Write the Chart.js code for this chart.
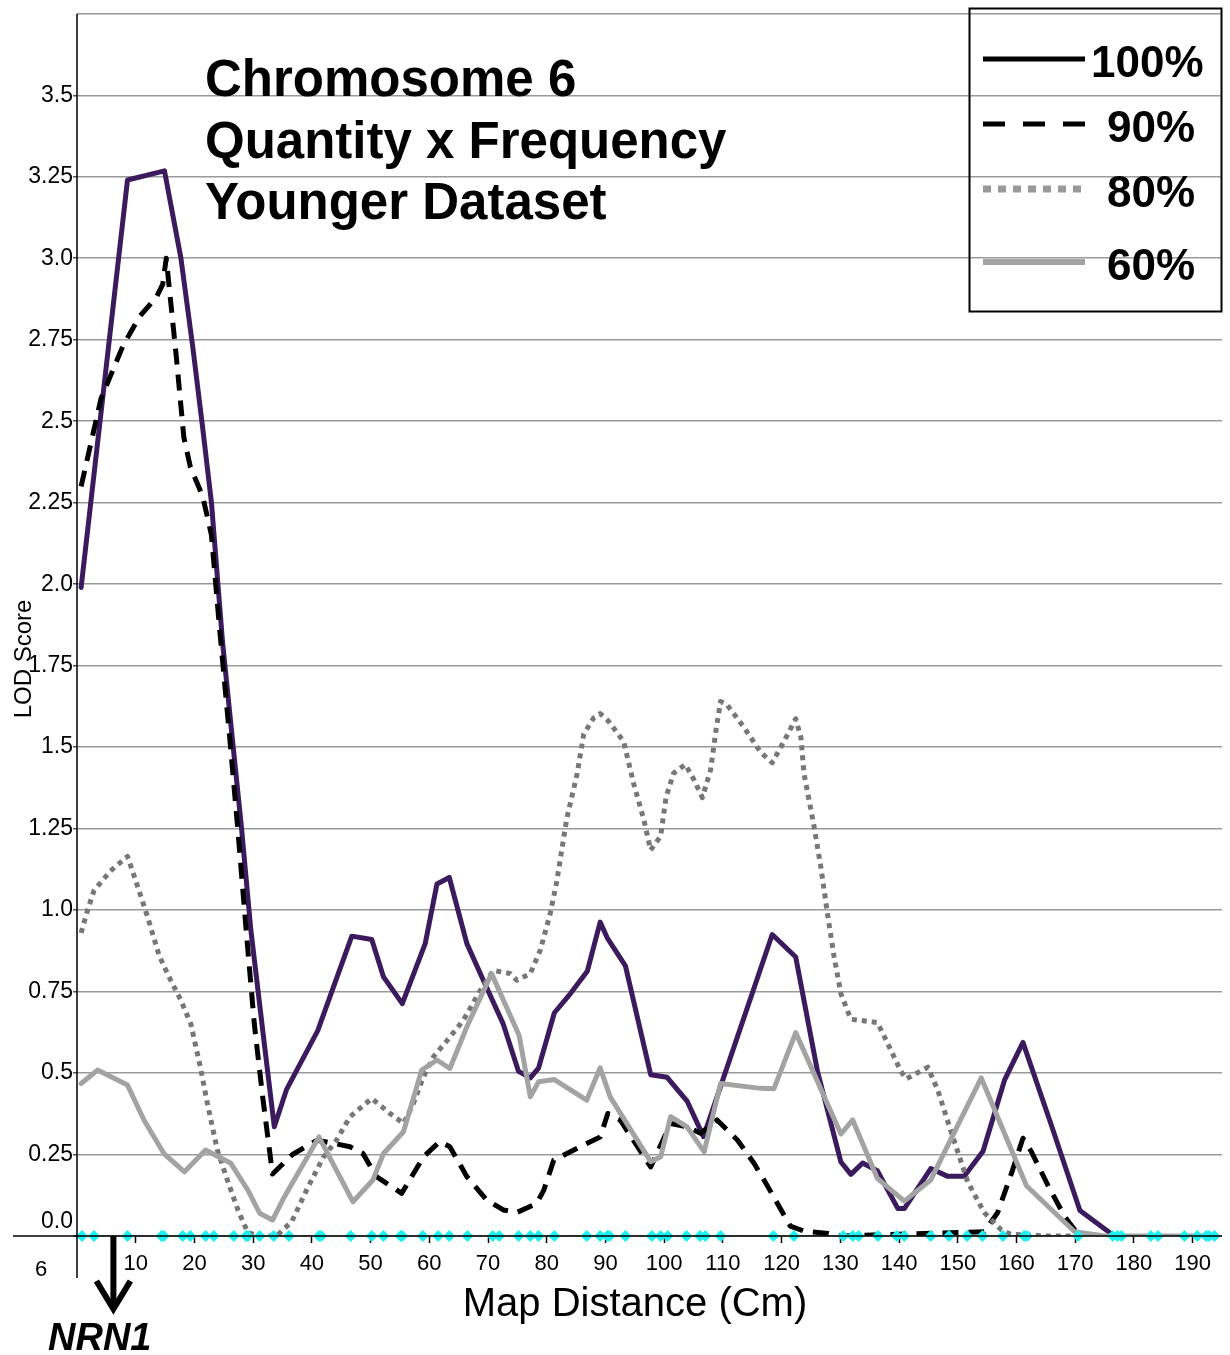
<!DOCTYPE html>
<html>
<head>
<meta charset="utf-8">
<script src="https://cdn.jsdelivr.net/npm/chart.js@4.4.1/dist/chart.umd.min.js"></script>
<style>
  html, body { margin: 0; background: #fff; }
  #wrap { position: relative; width: 1230px; height: 1355px; }
</style>
</head>
<body>
<div id="wrap"><canvas id="chart" width="1230" height="1355"></canvas></div>
<script>
// ---------- data (map distance cM, LOD score) ----------
const titleLines = ['Chromosome 6', 'Quantity x Frequency', 'Younger Dataset'];
const seriesLabels = ['100%', '90%', '80%', '60%'];
const xTickValues = [10, 20, 30, 40, 50, 60, 70, 80, 90, 100, 110, 120, 130, 140, 150, 160, 170, 180, 190];
const yTickValues = [0, 0.25, 0.5, 0.75, 1, 1.25, 1.5, 1.75, 2, 2.25, 2.5, 2.75, 3, 3.25, 3.5, 3.75];
const yTickLabels = ['0.0', '0.25', '0.5', '0.75', '1.0', '1.25', '1.5', '1.75', '2.0', '2.25', '2.5', '2.75', '3.0', '3.25', '3.5', ''];

const lod100 = [
  [0.7, 1.99], [8.6, 3.24], [14.9, 3.268], [17.7, 3.0], [19.7, 2.73], [21.4, 2.48], [22.9, 2.25],
  [24, 2.0], [24.8, 1.82], [26.6, 1.5], [28, 1.255], [29.6, 0.94], [31.9, 0.59], [33.6, 0.335],
  [35.7, 0.45], [41, 0.63], [46.8, 0.92], [50.2, 0.91], [52.2, 0.795], [55.4, 0.713], [59.3, 0.897],
  [61.3, 1.08], [63.4, 1.10], [66.4, 0.897], [69.2, 0.785], [72.6, 0.65], [75.2, 0.505], [77.2, 0.485],
  [78.6, 0.515], [81.3, 0.685], [84, 0.743], [86.9, 0.812], [89.1, 0.963], [90.3, 0.915], [93.4, 0.829],
  [97.7, 0.495], [100.5, 0.487], [103.9, 0.414], [106.7, 0.305], [118.4, 0.925], [122.4, 0.856],
  [126.1, 0.506], [130.1, 0.227], [131.8, 0.189], [133.8, 0.224], [136.3, 0.2], [139.8, 0.084],
  [140.9, 0.084], [145.4, 0.207], [148.3, 0.183], [151.1, 0.183], [154.3, 0.26], [158, 0.48],
  [161.1, 0.594], [165.9, 0.342], [170.8, 0.078], [175.9, 0.01]
];

const lod90 = [
  [0.7, 2.30], [4.1, 2.57], [7.8, 2.73], [10.6, 2.82], [13.5, 2.88], [14.6, 2.92], [15.2, 3.0],
  [16.9, 2.70], [18.2, 2.45], [19.3, 2.36], [21.4, 2.27], [22.9, 2.15], [24.3, 1.86], [26, 1.53],
  [27.4, 1.245], [28.8, 0.94], [30.2, 0.65], [31.6, 0.43], [33.3, 0.19], [36.7, 0.25], [40.9, 0.294],
  [46.5, 0.274], [48.7, 0.253], [51, 0.182], [55.3, 0.131], [59, 0.243], [61.8, 0.29], [63.5, 0.274],
  [66.4, 0.182], [69.8, 0.11], [72.6, 0.08], [74.9, 0.072], [78.3, 0.1], [79.5, 0.141], [81.2, 0.233],
  [85.7, 0.274], [89.1, 0.304], [90.4, 0.376], [92.5, 0.356], [97.7, 0.212], [101.1, 0.345],
  [103.9, 0.335], [106.2, 0.315], [109, 0.356], [112.5, 0.294], [115.3, 0.223], [117, 0.172],
  [119.6, 0.09], [121.5, 0.03], [123.8, 0.015], [128, 0.008], [130, 0], [154.5, 0.013], [156.8, 0.072],
  [159.1, 0.19], [161.1, 0.30], [162.5, 0.26], [165.4, 0.154], [168.2, 0.06], [170.5, 0.005]
];

const lod80 = [
  [0.7, 0.93], [1.8, 1.0], [2.9, 1.06], [5.7, 1.12], [8.6, 1.165], [10, 1.09], [12, 0.98], [14, 0.86],
  [15.4, 0.805], [17.7, 0.723], [19.4, 0.65], [21.1, 0.51], [22.2, 0.407], [23.9, 0.264], [25.6, 0.172],
  [27.4, 0.08], [29.1, 0.01], [31, 0], [34, 0], [36.6, 0.045], [39.2, 0.145], [41.9, 0.24], [44.2, 0.294],
  [46.5, 0.366], [50.2, 0.422], [53.3, 0.376], [55.6, 0.345], [57.3, 0.407], [59, 0.488], [60.7, 0.55],
  [63.5, 0.61], [65.8, 0.662], [68.7, 0.754], [70.9, 0.815], [73.8, 0.805], [74.9, 0.785], [77.2, 0.805],
  [78.9, 0.877], [80.6, 0.99], [81.7, 1.087], [83.4, 1.28], [85.2, 1.42], [86.3, 1.54], [88, 1.59],
  [89.1, 1.603], [90.5, 1.58], [93.1, 1.517], [94.8, 1.388], [96.5, 1.28], [97.7, 1.184], [99.4, 1.227],
  [100.3, 1.345], [101.6, 1.42], [103.6, 1.447], [105.1, 1.399], [106.5, 1.345], [107.9, 1.43],
  [108.8, 1.549], [109.6, 1.64], [110.7, 1.63], [113.6, 1.56], [116.4, 1.485], [118.4, 1.452],
  [121, 1.538], [122.4, 1.587], [123.3, 1.528], [123.8, 1.42], [125.5, 1.259], [126.7, 1.13],
  [127.8, 0.99], [128.9, 0.861], [130.1, 0.743], [131.8, 0.665], [136.3, 0.655], [137.5, 0.612],
  [140.3, 0.506], [141.2, 0.482], [144.9, 0.518], [146.6, 0.447], [148.9, 0.318], [151.7, 0.166],
  [154.5, 0.072], [157.4, 0.019], [159, 0.005], [165, 0], [172, 0]
];

const lod60 = [
  [0.7, 0.468], [3.5, 0.509], [8.6, 0.463], [11.4, 0.356], [14.8, 0.253], [18.3, 0.197], [21.9, 0.264],
  [26.2, 0.223], [29.1, 0.141], [31.1, 0.07], [33.3, 0.049], [35.3, 0.12], [41.2, 0.304], [47, 0.105],
  [50.4, 0.172], [52.2, 0.253], [55.6, 0.32], [58.7, 0.509], [61.3, 0.54], [63.5, 0.514], [66.4, 0.642],
  [70.6, 0.805], [75.3, 0.615], [77.2, 0.427], [78.6, 0.473], [81.3, 0.48], [86.8, 0.417], [89.1, 0.516],
  [90.8, 0.427], [97.7, 0.228], [99.4, 0.243], [101.1, 0.366], [103.9, 0.335], [106.8, 0.258],
  [109.6, 0.468], [116.4, 0.453], [118.7, 0.452], [122.4, 0.624], [130.1, 0.313], [132.1, 0.356],
  [136.3, 0.177], [140.9, 0.107], [145.4, 0.172], [154, 0.485], [161.7, 0.154], [169.9, 0.013],
  [175, 0], [194, 0]
];

// marker positions along the map (cM)
const markers = [
  0.85, 2.9, 8.6, 14.4, 14.8, 18.0, 19.3, 21.9, 23.3, 26.7, 28.8, 29.1, 31.1, 33.5, 36.1, 41.2, 41.6,
  46.6, 50.2, 52.2, 55.1, 55.4, 58.9, 61.5, 63.4, 66.5, 70.8, 71.9, 75.2, 77.2, 78.6, 81.3, 86.8, 89.1,
  90.3, 90.7, 93.4, 97.9, 99.4, 100.6, 103.8, 106.1, 107.0, 109.6, 118.6, 122.1, 130.5, 132.1, 133.1,
  136.4, 139.6, 140.9, 145.4, 148.5, 151.6, 154.2, 157.7, 161.3, 161.8, 170.5, 176.4, 177.2, 177.9,
  182.9, 184.1, 188.6, 190.8, 192.3, 192.8, 193.7
];
const geneName = 'NRN1';
const genePos = 6.2;

// ---------- helpers ----------
const FONT = "'Liberation Sans', Arial, sans-serif";
const pts = (arr) => arr.map(([x, y]) => ({ x, y }));

const line = (label, data, color, width, dash, order) => ({
  label, data: pts(data), borderColor: color, borderWidth: width, borderDash: dash,
  borderCapStyle: dash.length ? 'butt' : 'round', borderJoinStyle: 'round',
  pointRadius: 0, tension: 0, fill: false, order,
});

// ---------- overlay: axes, title, legend, labels ----------
const overlay = {
  id: 'overlay',
  afterDraw(chart) {
    const { ctx, scales: { x, y } } = chart;
    const y0 = y.getPixelForValue(0);
    ctx.save();

    // axis lines
    ctx.strokeStyle = '#000'; ctx.lineWidth = 1.5;
    ctx.beginPath();
    ctx.moveTo(13, y0); ctx.lineTo(x.right, y0);
    ctx.moveTo(x.left, y.top); ctx.lineTo(x.left, 1278);
    ctx.stroke();

    // title
    ctx.fillStyle = '#000';
    ctx.font = `bold 51px ${FONT}`;
    ctx.textAlign = 'left'; ctx.textBaseline = 'alphabetic';
    titleLines.forEach((t, i) => ctx.fillText(t, 205, 96 + i * 61.5));

    // legend
    ctx.lineWidth = 2; ctx.strokeStyle = '#000';
    ctx.strokeRect(969.5, 8.5, 252, 303);
    const items = [
      { c: '#000', w: 5, d: [], ly: 59, tx: 1091, ty: 77 },
      { c: '#000', w: 5, d: [22, 18], ly: 124, tx: 1107, ty: 142 },
      { c: '#999', w: 7, d: [8, 7], ly: 189, tx: 1107, ty: 207 },
      { c: '#a3a3a3', w: 6, d: [], ly: 262, tx: 1107, ty: 280 },
    ];
    ctx.font = `bold 44px ${FONT}`;
    items.forEach((it, i) => {
      ctx.beginPath();
      ctx.strokeStyle = it.c; ctx.lineWidth = it.w; ctx.setLineDash(it.d); ctx.lineCap = 'butt';
      ctx.moveTo(983, it.ly); ctx.lineTo(1085, it.ly); ctx.stroke();
      ctx.setLineDash([]);
      ctx.fillText(seriesLabels[i], it.tx, it.ty);
    });

    // zero label sits above the axis line
    ctx.font = `23px ${FONT}`;
    ctx.textAlign = 'right'; ctx.textBaseline = 'middle';
    ctx.fillText(yTickLabels[0], 73, y0 - 14);

    // chromosome number under the axis
    ctx.font = `22px ${FONT}`;
    ctx.textAlign = 'center';
    ctx.fillText('6', 41, 1270);

    // axis titles
    ctx.font = `40px ${FONT}`;
    ctx.textBaseline = 'alphabetic';
    ctx.fillText('Map Distance (Cm)', 635, 1316);
    ctx.save();
    ctx.translate(24, 659); ctx.rotate(-Math.PI / 2);
    ctx.font = `24px ${FONT}`; ctx.textBaseline = 'middle';
    ctx.fillText('LOD Score', 0, 0);
    ctx.restore();

    // gene arrow
    const gx = x.getPixelForValue(genePos);
    ctx.strokeStyle = '#000'; ctx.lineWidth = 6; ctx.lineCap = 'butt'; ctx.lineJoin = 'miter';
    ctx.beginPath(); ctx.moveTo(gx, y0); ctx.lineTo(gx, 1306); ctx.stroke();
    ctx.beginPath(); ctx.moveTo(gx - 17, 1281); ctx.lineTo(gx, 1309); ctx.lineTo(gx + 17, 1281); ctx.stroke();
    ctx.font = `italic bold 38px ${FONT}`;
    ctx.textAlign = 'left';
    ctx.fillText(geneName, 48, 1350);

    ctx.restore();
  },
};

new Chart(document.getElementById('chart'), {
  type: 'line',
  data: {
    datasets: [
      {
        label: 'markers', data: markers.map((m) => ({ x: m, y: 0 })), showLine: false,
        pointStyle: 'rectRot', pointRadius: 6, pointBackgroundColor: '#1cf0f0', pointBorderWidth: 0,
        clip: false, order: 0,
      },
      line(seriesLabels[3], lod60, '#a3a3a3', 5, [], 1),
      line(seriesLabels[2], lod80, '#777777', 5, [5, 5], 2),
      line(seriesLabels[1], lod90, '#000000', 5, [16, 10], 3),
      line(seriesLabels[0], lod100, '#3b1a5e', 5, [], 4),
    ],
  },
  options: {
    responsive: false, animation: false, devicePixelRatio: 1,
    layout: { padding: { left: 0, top: 12, right: 8, bottom: 0 } },
    plugins: { legend: { display: false }, tooltip: { enabled: false } },
    scales: {
      x: {
        type: 'linear', min: 0, max: 195,
        afterBuildTicks: (s) => { s.ticks = xTickValues.map((v) => ({ value: v })); },
        afterFit: (s) => { s.height = 119; },
        grid: { drawOnChartArea: false, drawTicks: true, tickLength: 7, tickColor: '#000', tickWidth: 1.5 },
        border: { display: false },
        ticks: { color: '#000', font: { family: FONT, size: 22 }, padding: 8, maxRotation: 0, autoSkip: false },
      },
      y: {
        type: 'linear', min: 0, max: 3.75,
        afterBuildTicks: (s) => { s.ticks = yTickValues.map((v) => ({ value: v })); },
        afterFit: (s) => { s.width = 77; },
        grid: {
          color: '#9a9a9a', lineWidth: 1.5, tickLength: 4,
          tickColor: (c) => (c.index === yTickValues.length - 1 ? 'rgba(0,0,0,0)' : '#555'),
        },
        border: { display: false },
        ticks: {
          color: '#000', font: { family: FONT, size: 23 }, padding: 0, autoSkip: false,
          callback: (v, i) => (i === 0 ? '' : yTickLabels[i]),
        },
      },
    },
  },
  plugins: [overlay],
});
</script>
</body>
</html>
